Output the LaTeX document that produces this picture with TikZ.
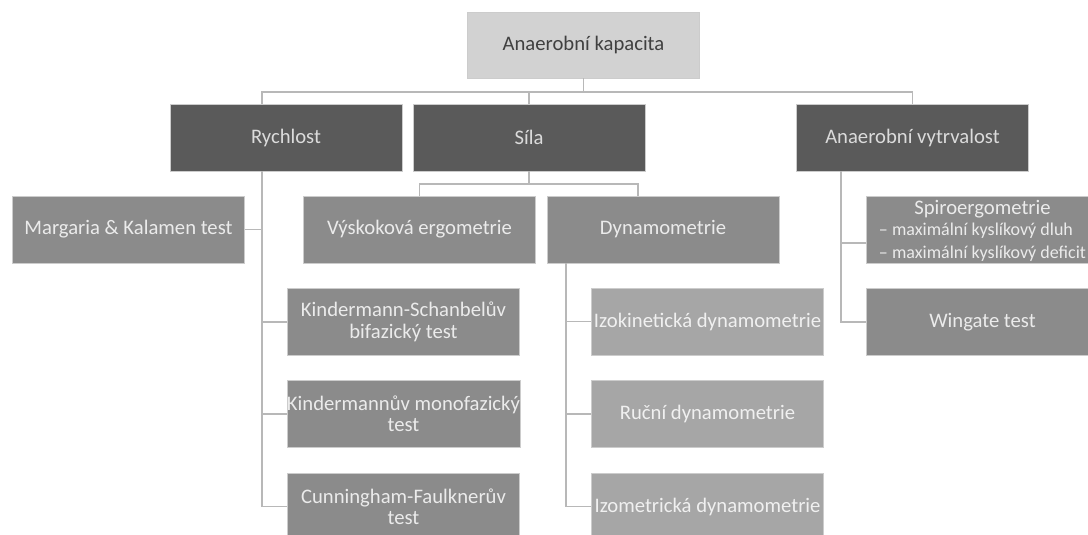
\documentclass[tikz,border=0pt]{standalone}
\usepackage{fontspec}
\setmainfont{Carlito}
\definecolor{rootfill}{HTML}{D2D2D2}
\definecolor{catfill}{HTML}{5A5A5A}
\definecolor{testfill}{HTML}{8B8B8B}
\definecolor{dynfill}{HTML}{A6A6A6}
\definecolor{linkgray}{HTML}{B8B8B8}
\tikzset{
	box/.style = {rectangle, draw = white!80!black, line width = 0.5pt, inner sep = 0pt,
		minimum width = 174pt, minimum height = 50pt, align = center,
		font = \fontsize{15.5}{16}\selectfont},
	rootbox/.style = {box, fill = rootfill, text = black!75},
	catbox/.style = {box, fill = catfill, text = white!86!black},
	testbox/.style = {box, fill = testfill, text = white!92!black},
	dynbox/.style = {box, fill = dynfill, text = white!94!black},
	link/.style = {draw = linkgray, line width = 1.1pt}
}
\begin{document}
\begin{tikzpicture}[x = 0.75pt, y = -0.75pt]
		
		\clip (0,0) rectangle (1088,535);
		\useasboundingbox (0,0) rectangle (1088,535);
		
		\node[rootbox, minimum height = 49.5pt] (root) at (583.5,45) {Anaerobní kapacita};
		
		\node[catbox] (ryc) at (286,137.5) {Rychlost};
		\node[catbox] (sila) at (529,137.5) {Síla};
		\node[catbox] (av) at (912.5,137.5) {Anaerobní vytrvalost};
		
		\node[testbox] (mar) at (128.5,229.5) {Margaria \& Kalamen test};
		\node[testbox] (vys) at (419.5,229.5) {Výskoková ergometrie};
		\node[testbox] (dyn) at (663,229.5) {Dynamometrie};
		\node[testbox] (spi) at (982.5,229.5) {\raisebox{-11.2pt}{\smash{\begin{tabular}{@{}c@{}}Spiroergometrie\\[-0.25pt]
			\fontsize{13.5}{16}\selectfont\begin{tabular}{@{}l@{}}– maximální kyslíkový dluh\\[1.25pt] – maximální kyslíkový deficit\end{tabular}\end{tabular}}}};
		
		\node[testbox] (kin1) at (403.5,322) {Kindermann-Schanbelův\\bifazický test};
		\node[testbox] (kin2) at (403.5,414) {Kindermannův monofazický\\test};
		\node[testbox] (cun) at (403.5,506.5) {Cunningham-Faulknerův\\test};
		
		\node[dynbox] (izk) at (707.5,321.5) {Izokinetická dynamometrie};
		\node[dynbox] (ruc) at (707.5,414) {Ruční dynamometrie};
		\node[dynbox] (izm) at (707.5,506.5) {Izometrická dynamometrie};
		
		\node[testbox] (win) at (982.5,322) {Wingate test};
		
		\coordinate (b0) at (262,92);
		\coordinate (b1) at (638,184);
		\coordinate (b2) at (566,263);
		\coordinate (b3) at (841,171);
		
		\draw[link] (ryc.north -| b0) -- (b0) -| (av.north);
		\draw[link] (root.south) -- (root.south |- b0);
		\draw[link] (sila.north) -- (sila.north |- b0);
		
		\draw[link] (ryc.south -| b0) -- (b0 |- cun.west) -- (cun.west);
		\draw[link] (mar.east) -- (mar.east -| b0);
		\draw[link] (kin1.west) -- (kin1.west -| b0);
		\draw[link] (kin2.west) -- (kin2.west -| b0);
		
		\draw[link] (sila.south) -- (sila.south |- b1);
		\draw[link] (vys.north) |- (b1) -- (b1 |- dyn.north);
		
		\draw[link] (dyn.south -| b2) -- (b2 |- izm.west) -- (izm.west);
		\draw[link] (izk.west) -- (izk.west -| b2);
		\draw[link] (ruc.west) -- (ruc.west -| b2);
		
		\draw[link] (av.south -| b3) -- (b3 |- win.west) -- (win.west);
		\draw[link] ([yshift = -10pt]spi.west) -- ([yshift = -10pt]spi.west -| b3);
		
	\end{tikzpicture}
\end{document}
